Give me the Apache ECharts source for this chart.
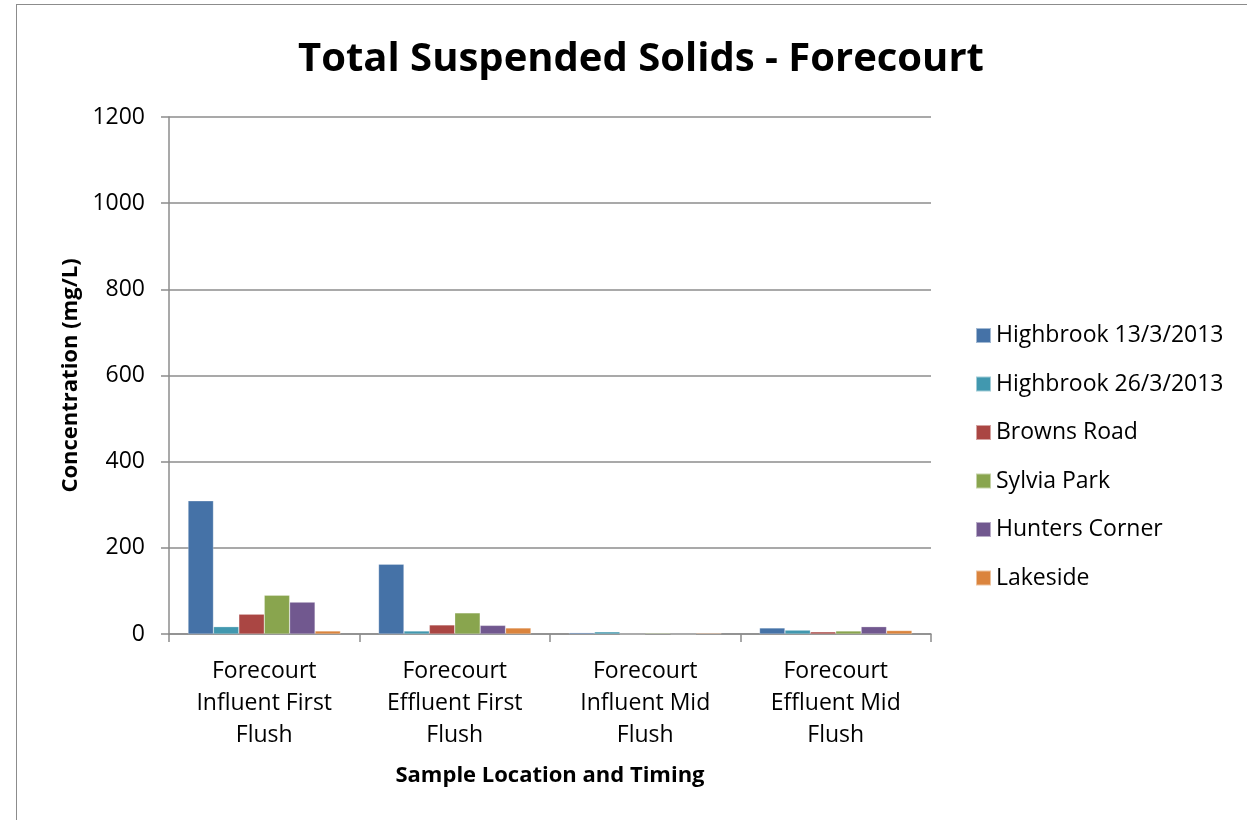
<!DOCTYPE html>
<html>
<head>
<meta charset="utf-8">
<script src="https://cdn.jsdelivr.net/npm/echarts@6/dist/echarts.min.js"></script>
<style>
  html, body { margin: 0; padding: 0; background: #fff; }
  #frame {
    position: absolute; left: 16px; top: 4px; width: 1300px; height: 900px;
    border: 1.5px solid #8c8c8c; box-sizing: border-box;
  }
  #chart { position: absolute; left: 0; top: 0; width: 1247px; height: 820px; }
</style>
</head>
<body>
<div id="frame"></div>
<div id="chart"></div>
<script>
const categories = [
  'Forecourt\nInfluent First\nFlush',
  'Forecourt\nEffluent First\nFlush',
  'Forecourt\nInfluent Mid\nFlush',
  'Forecourt\nEffluent Mid\nFlush'
];
const seriesNames = [
  'Highbrook 13/3/2013',
  'Highbrook 26/3/2013',
  'Browns Road',
  'Sylvia Park',
  'Hunters Corner',
  'Lakeside'
];
const highbrook13 = [309, 162, 3, 14];
const highbrook26 = [17, 7, 5, 9];
const brownsRoad = [46, 21, 0, 5];
const sylviaPark = [90, 49, 2, 7];
const huntersCorner = [74, 20, 0, 17];
const lakeside = [7, 14, 2, 8];
const yTicks = [0, 200, 400, 600, 800, 1000, 1200];

const seriesData = [highbrook13, highbrook26, brownsRoad, sylviaPark, huntersCorner, lakeside];
const colors = ['#4572A7', '#4198AF', '#AA4643', '#89A54E', '#71588F', '#DB843D'];
const font = '"Open Sans", sans-serif';

const chart = echarts.init(document.getElementById('chart'));
const option = {
  animation: false,
  color: colors,
  title: {
    text: 'Total Suspended Solids - Forecourt',
    left: 636,
    textAlign: 'center',
    top: 35,
    textStyle: { fontFamily: font, fontSize: 40, fontWeight: 'bold', color: '#000' }
  },
  legend: {
    orient: 'vertical',
    left: 975,
    top: 324,
    padding: 0,
    itemWidth: 15,
    itemHeight: 15,
    itemGap: 25.5,
    icon: 'rect',
    textStyle: { fontFamily: font, fontSize: 23, color: '#000' },
    data: seriesNames
  },
  grid: { left: 169, right: 316, top: 117, bottom: 186 },
  xAxis: {
    type: 'category',
    data: categories,
    name: 'Sample Location and Timing',
    nameLocation: 'middle',
    nameGap: 131,
    nameTextStyle: { fontFamily: font, fontSize: 22, fontWeight: 'bold', color: '#000' },
    axisLine: { lineStyle: { color: '#8c8c8c', width: 1.5 } },
    axisTick: { show: true, length: 8, lineStyle: { color: '#8c8c8c', width: 1.5 } },
    axisLabel: { fontFamily: font, fontSize: 23, color: '#000', margin: 21, lineHeight: 32 }
  },
  yAxis: {
    type: 'value',
    min: 0,
    max: 1200,
    interval: 200,
    name: 'Concentration (mg/L)',
    nameLocation: 'middle',
    nameGap: 87,
    nameTextStyle: { fontFamily: font, fontSize: 22, fontWeight: 'bold', color: '#000' },
    axisLine: { show: true, lineStyle: { color: '#8c8c8c', width: 1.5 } },
    axisTick: { show: true, length: 8, lineStyle: { color: '#8c8c8c', width: 1.5 } },
    axisLabel: {
      fontFamily: font, fontSize: 23, color: '#000', margin: 24,
      formatter: v => (yTicks.includes(v) ? String(v) : '')
    },
    splitLine: { lineStyle: { color: '#8c8c8c', width: 1.5 } }
  },
  series: seriesNames.map((name, i) => ({
    name: name,
    type: 'bar',
    data: seriesData[i],
    barGap: '0%',
    barCategoryGap: '20%',
    itemStyle: { borderColor: 'rgba(255,255,255,0.5)', borderWidth: 0.5 }
  }))
};
chart.setOption(option);
</script>
</body>
</html>
